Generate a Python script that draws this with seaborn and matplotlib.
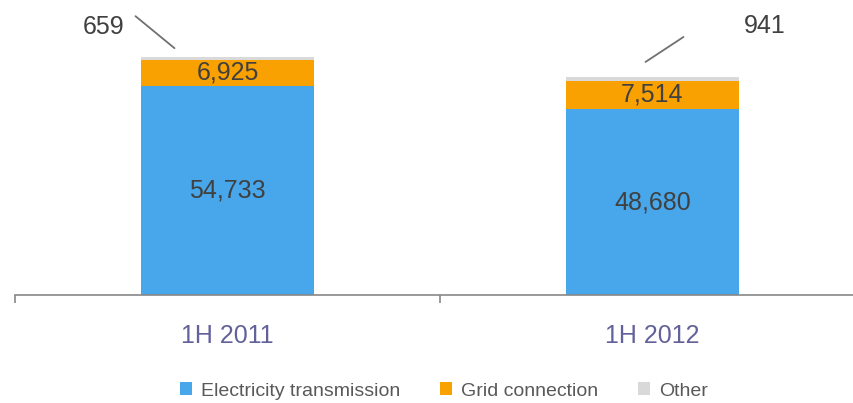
import matplotlib
matplotlib.use("Agg")
import matplotlib.pyplot as plt
import matplotlib.transforms as mtransforms
from matplotlib.patches import Patch
import seaborn as sns
import pandas as pd

# data
periods = ["1H 2011", "1H 2012"]
electricity = [54733, 48680]
grid = [6925, 7514]
other = [659, 941]
series_names = ["Electricity transmission", "Grid connection", "Other"]
colors = ["#47A7EA", "#F9A100", "#D9D9D9"]

sns.set_theme(style="white")
plt.rcParams["font.family"] = ["Liberation Sans", "DejaVu Sans"]

big = 18
small = 14

df = pd.DataFrame({"period": periods, "elec": electricity, "grid": grid, "other": other})
df["grid_bottom"] = df["elec"]
df["other_bottom"] = df["elec"] + df["grid"]
df["total"] = df["other_bottom"] + df["other"]

fig = plt.figure(figsize=(8.54, 4.03), dpi=100)
ax = fig.add_axes([15 / 854, 1 - 295 / 403, 850 / 854, 295 / 403])

w = 0.405
sns.barplot(data=df, x="period", y="elec", color=colors[0], width=w, saturation=1,
            linewidth=0, ax=ax)
sns.barplot(data=df, x="period", y="grid", bottom=df["grid_bottom"], color=colors[1],
            width=w, saturation=1, linewidth=0, ax=ax)
sns.barplot(data=df, x="period", y="other", bottom=df["other_bottom"], color=colors[2],
            width=w, saturation=1, linewidth=0, ax=ax)

ax.set_xlim(-0.5, 1.5)
ax.set_ylim(0, 77300)
ax.set_xlabel("")
ax.set_ylabel("")
ax.set_yticks([])
for s in ["top", "left", "right"]:
    ax.spines[s].set_visible(False)
ax.spines["bottom"].set_color("#888888")
ax.spines["bottom"].set_linewidth(1.2)

ax.set_xticks([-0.5, 0.5, 1.5])
ax.set_xticklabels([])
ax.tick_params(axis="x", which="major", bottom=True, direction="out", length=6,
               width=1.2, color="#888888")
ax.set_xticks([0, 1], minor=True)
ax.set_xticklabels(periods, minor=True)
ax.tick_params(axis="x", which="minor", length=0, pad=21, labelsize=big,
               labelcolor="#63619A")

lab_col = "#404040"
for i in range(len(periods)):
    ax.text(i, electricity[i] / 2, f"{electricity[i]:,}", ha="center", va="center",
            fontsize=big, color=lab_col)
    ax.text(i, df["grid_bottom"][i] + grid[i] / 2, f"{grid[i]:,}", ha="center",
            va="center", fontsize=big, color=lab_col)

# leader lines for "Other"
leader = [((-53, 9), (-92, 41), (-124, 30)), ((-7, 15), (31, 40), (112, 51))]
for i, (p0, p1, pt) in enumerate(leader):
    top = df["total"][i]
    t0 = mtransforms.offset_copy(ax.transData, fig=fig, x=p0[0], y=p0[1], units="dots")
    t1 = mtransforms.offset_copy(ax.transData, fig=fig, x=p1[0], y=p1[1], units="dots")
    tt = mtransforms.offset_copy(ax.transData, fig=fig, x=pt[0], y=pt[1], units="dots")
    a = t0.transform((i, top))
    b = t1.transform((i, top))
    ax.plot([a[0], b[0]], [a[1], b[1]], transform=None, color="#707070", lw=1.3,
            clip_on=False)
    ax.text(i, top, f"{other[i]:,}", transform=tt, ha="center", va="center",
            fontsize=big, color=lab_col)

handles = [Patch(facecolor=c, edgecolor="none") for c in colors]
fig.legend(handles, series_names, loc="center", bbox_to_anchor=(444 / 854, 1 - 391 / 403),
           ncol=3, frameon=False, fontsize=small, labelcolor="#595959",
           handlelength=0.62, handleheight=0.62, handletextpad=0.46, columnspacing=2.05)

fig.savefig("out.png", dpi=100)
